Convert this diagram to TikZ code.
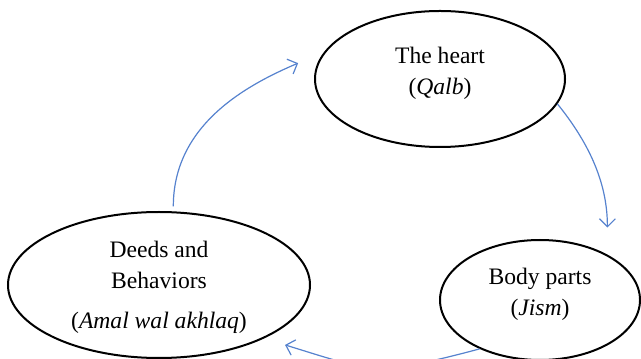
\documentclass[tikz,border=0pt]{standalone}
\usepackage{fontspec}
\setmainfont{Liberation Serif}
\usetikzlibrary{arrows.meta,shapes.geometric}
\definecolor{flowblue}{RGB}{86,130,206}

\begin{document}
\begin{tikzpicture}[x=0.5pt,y=0.5pt,
   ell/.style={draw,ellipse,line width=1pt,inner sep=0pt},
   txt/.style={align=center,inner sep=0pt,font=\fontsize{11.8}{15.5}\selectfont},
   flow/.style={draw=flowblue,line width=0.6pt,-{Straight Barb[length=4pt,width=8pt]}}]
\clip (0,0) rectangle (641,358);
% the three ellipses
\node[ell,minimum width=125pt,minimum height=68pt] (heart) at (440,279) {};
\node[ell,minimum width=151pt,minimum height=73pt] (deeds) at (159,73) {};
\node[ell,minimum width=100pt,minimum height=60pt] (body) at (540,58) {};
\node[txt] (heartlbl) at ([yshift=3pt]heart.center) {The heart\\(\textit{Qalb})};
\node[txt] (deedslbl) at ([yshift=-1pt]deeds.center) {Deeds and\\Behaviors\\[4.5pt](\textit{Amal wal akhlaq})};
\node[txt] (bodylbl) at ([yshift=3pt]body.center) {Body parts\\(\textit{Jism})};

% the cycle
\draw[flow,shorten <=2.5pt,shorten >=14pt] (deeds.79) to[out=90,in=203] (heart.167);
\draw[flow,shorten >=13.5pt] (heart.-12) to[out=-51,in=90] (body.34);
\draw[flow,shorten >=11pt,looseness=1.3] (body.219) to[out=195,in=-17] (deeds.-27);
\end{tikzpicture}
\end{document}
